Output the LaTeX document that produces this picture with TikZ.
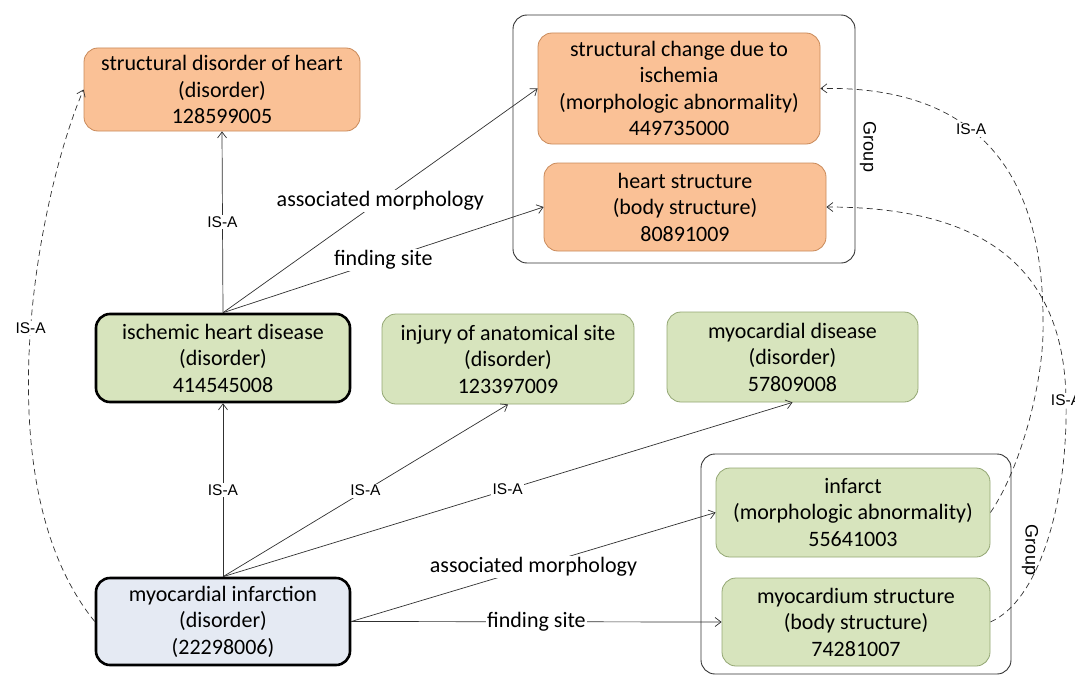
\documentclass[tikz,border=0pt]{standalone}
\usepackage{fontspec}
\setmainfont{Carlito}
\newfontfamily\arialfont{Liberation Sans}
\usetikzlibrary{arrows.meta}
\definecolor{orgfill}{HTML}{FAC196}
\definecolor{orgline}{HTML}{C98A5A}
\definecolor{grnfill}{HTML}{D7E4BD}
\definecolor{grnline}{HTML}{93A673}
\definecolor{mifill}{HTML}{E5EAF3}
\definecolor{lnk}{HTML}{303030}
\begin{document}
\begin{tikzpicture}[x=1pt,y=-1pt,
    concept/.style={rectangle,rounded corners=14pt,align=center,inner sep=2pt,
      font=\fontsize{22}{26.5}\selectfont},
    orgbox/.style={concept,fill=orgfill,draw=orgline,line width=0.8pt},
    grnbox/.style={concept,fill=grnfill,draw=grnline,line width=0.8pt},
    keybox/.style={concept,draw=black,line width=2.6pt},
    grpbox/.style={rectangle,rounded corners=14pt,draw=black!80,line width=0.9pt},
    grplabel/.style={font=\arialfont\fontsize{18}{20}\selectfont,rotate=-90},
    rel/.style={draw=lnk,line width=0.7pt,-{Straight Barb[length=6pt,width=9pt]}},
    dashrel/.style={rel,dash pattern=on 6pt off 4pt},
    isa/.style={font=\arialfont\fontsize{15.5}{17}\selectfont,fill=white,inner sep=1.5pt},
    attr/.style={font=\fontsize{22}{26.5}\selectfont,fill=white,inner sep=1.5pt}]
  \useasboundingbox (0,0) rectangle (1075,677);
  \node[grpbox,minimum width=342pt,minimum height=248pt] (g1) at (684,139) {};
  \node[grplabel] (gl1) at (868,147) {Group};
  \node[grpbox,minimum width=310pt,minimum height=220pt] (g2) at (856,564) {};
  \node[grplabel] (gl2) at (1030,550) {Group};
  \node[orgbox,minimum width=276pt,minimum height=83pt] (sdh) at (222,89.5)
    {structural disorder of heart\\(disorder)\\128599005};
  \node[orgbox,minimum width=282pt,minimum height=111pt] (scdi) at (679,88.5)
    {structural change due to\\ischemia\\(morphologic abnormality)\\449735000};
  \node[orgbox,minimum width=282pt,minimum height=88pt] (hs) at (685,207)
    {heart structure\\(body structure)\\80891009};
  \node[keybox,fill=grnfill,minimum width=254pt,minimum height=88pt] (ihd) at (223,358)
    {ischemic heart disease\\(disorder)\\414545008};
  \node[grnbox,minimum width=252pt,minimum height=90pt] (iaas) at (508,359)
    {injury of anatomical site\\(disorder)\\123397009};
  \node[grnbox,minimum width=251pt,minimum height=90pt] (md) at (792.5,357)
    {myocardial disease\\(disorder)\\57809008};
  \node[grnbox,minimum width=274pt,minimum height=89pt] (inf) at (853,512.5)
    {infarct\\(morphologic abnormality)\\55641003};
  \node[grnbox,minimum width=268pt,minimum height=88pt] (ms) at (856,622)
    {myocardium structure\\(body structure)\\74281007};
  \node[keybox,fill=mifill,minimum width=254pt,minimum height=87pt] (mi) at (223,621.5)
    {myocardial infarction\\(disorder)\\(22298006)};
  \draw[rel] (ihd.north) -- node[isa]{IS-A} (sdh.south);
  \draw[rel] (ihd.north) -- node[attr]{associated morphology} (scdi.west);
  \draw[rel] (ihd.north) -- node[attr]{finding site} (hs.west);
  \draw[rel] (mi.north) -- node[isa]{IS-A} (ihd.south);
  \draw[rel] (mi.north) -- node[isa]{IS-A} (iaas.south);
  \draw[rel] (mi.north) -- node[isa]{IS-A} (md.south);
  \draw[rel] (mi.east) -- node[attr]{associated morphology} (inf.west);
  \draw[rel] (mi.east) -- node[attr]{finding site} (ms.west);
  \draw[dashrel] (mi.west) .. controls (-20,480) and (40,190) .. (sdh.west)
    node[isa,pos=0.52]{IS-A};
  \draw[dashrel] (inf.east) .. controls (1020,470) and (1045,380) .. (1043,320)
    .. controls (1043,200) and (1000,85) .. (scdi.east) node[isa,pos=0.62]{IS-A};
  \draw[dashrel] (ms.east) .. controls (1040,600) and (1068,500) .. (1066,400) node[isa]{IS-A}
    .. controls (1064,250) and (960,207) .. (hs.east);
\end{tikzpicture}
\end{document}
